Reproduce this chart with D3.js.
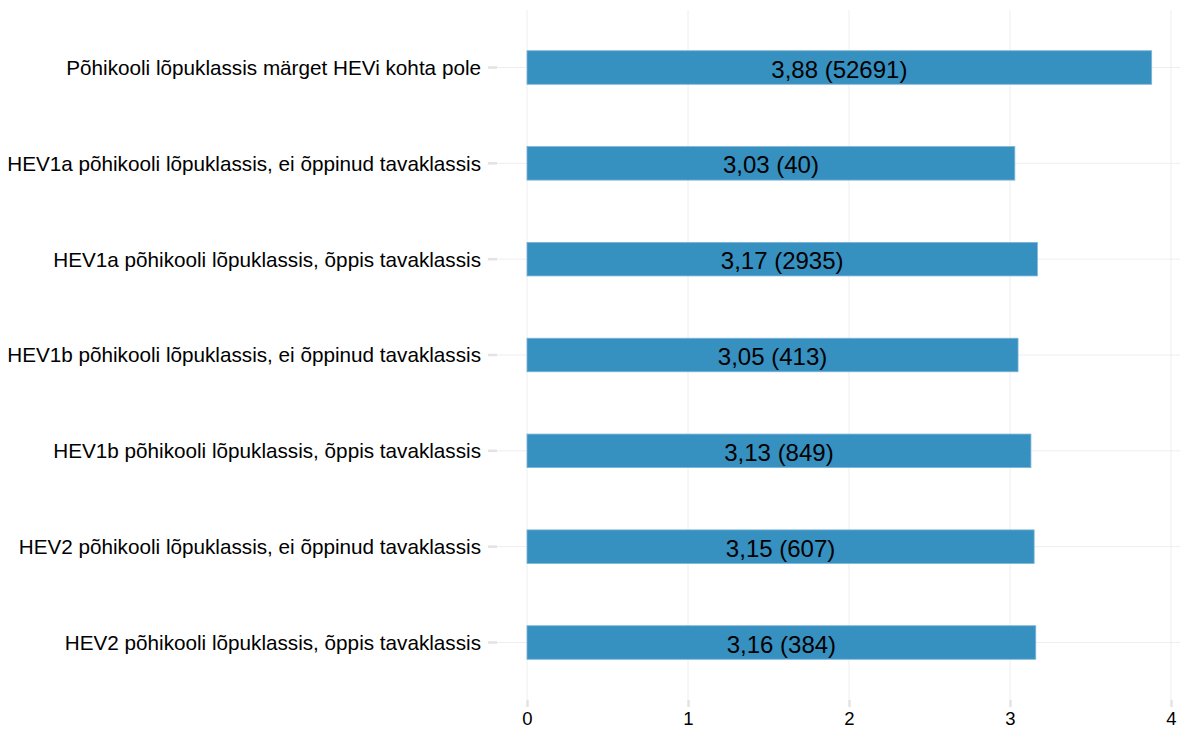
<!DOCTYPE html>
<html>
<head>
<meta charset="utf-8">
<script src="https://cdn.jsdelivr.net/npm/d3@7"></script>
<style>
  body { margin: 0; background: #fff; }
  svg { display: block; font-family: "Liberation Sans", Arial, sans-serif; }
</style>
</head>
<body>
<svg width="1180" height="731"></svg>
<script>
// Data
let categories = [
  "Põhikooli lõpuklassis märget HEVi kohta pole",
  "HEV1a põhikooli lõpuklassis, ei õppinud tavaklassis",
  "HEV1a põhikooli lõpuklassis, õppis tavaklassis",
  "HEV1b põhikooli lõpuklassis, ei õppinud tavaklassis",
  "HEV1b põhikooli lõpuklassis, õppis tavaklassis",
  "HEV2 põhikooli lõpuklassis, ei õppinud tavaklassis",
  "HEV2 põhikooli lõpuklassis, õppis tavaklassis"
];
let means = [3.88, 3.03, 3.17, 3.05, 3.13, 3.15, 3.16];
let counts = [52691, 40, 2935, 413, 849, 607, 384];
let xTicks = [0, 1, 2, 3, 4];

let rows = categories.map((c, i) => ({ cat: c, value: means[i], n: counts[i] }));

let svg = d3.select("svg");

// Panel edges
let panel = { left: 497, right: 1180, top: 10, bottom: 700 };

let x = d3.scaleLinear().domain([0, 4]).range([527, 1171]);
let y = d3.scaleBand()
  .domain(categories)
  .range([panel.top, panel.bottom])
  .paddingInner(0.65)
  .paddingOuter(0.425);

let fmt = v => d3.format(".2f")(v).replace(".", ",");

// Grid
let grid = svg.append("g");
grid.selectAll(".vgrid")
  .data(xTicks)
  .enter().append("line")
  .attr("x1", d => x(d)).attr("x2", d => x(d))
  .attr("y1", panel.top).attr("y2", panel.bottom)
  .attr("stroke", "#eeeeee").attr("stroke-width", 1);
grid.selectAll(".hgrid")
  .data(categories)
  .enter().append("line")
  .attr("x1", panel.left).attr("x2", panel.right)
  .attr("y1", d => y(d) + y.bandwidth() / 2)
  .attr("y2", d => y(d) + y.bandwidth() / 2)
  .attr("stroke", "#eeeeee").attr("stroke-width", 1);

// Bars
svg.append("g")
  .selectAll("rect")
  .data(rows)
  .enter().append("rect")
  .attr("x", x(0))
  .attr("y", d => y(d.cat))
  .attr("width", d => x(d.value) - x(0))
  .attr("height", y.bandwidth())
  .attr("fill", "#3690c0")
  .attr("stroke", "#7db4d8")
  .attr("stroke-width", 0.8);

// Bar labels
svg.append("g")
  .selectAll("text")
  .data(rows)
  .enter().append("text")
  .attr("x", d => x(d.value / 2))
  .attr("y", d => y(d.cat) + y.bandwidth() / 2)
  .attr("dy", "0.42em")
  .attr("text-anchor", "middle")
  .attr("font-size", "24px")
  .attr("fill", "#000")
  .text(d => fmt(d.value) + " (" + d.n + ")");

// Y axis
let yAxis = svg.append("g")
  .attr("transform", "translate(" + panel.left + ",0)")
  .call(d3.axisLeft(y).tickSize(9).tickPadding(7));
yAxis.select(".domain").remove();
yAxis.selectAll(".tick line").attr("stroke", "#e3e3e3").attr("stroke-width", 2.5);
yAxis.selectAll(".tick text")
  .attr("font-size", "20.7px")
  .attr("font-family", "Liberation Sans, Arial, sans-serif")
  .attr("fill", "#000")
  .attr("dy", "0.36em");

// X axis
let xAxis = svg.append("g")
  .attr("transform", "translate(0," + panel.bottom + ")")
  .call(d3.axisBottom(x).tickValues(xTicks).tickFormat(d3.format("d")).tickSize(7).tickPadding(5));
xAxis.select(".domain").remove();
xAxis.selectAll(".tick line").attr("stroke", "#e3e3e3").attr("stroke-width", 2.5);
xAxis.selectAll(".tick text")
  .attr("font-size", "18.5px")
  .attr("font-family", "Liberation Sans, Arial, sans-serif")
  .attr("fill", "#000");
</script>
</body>
</html>
